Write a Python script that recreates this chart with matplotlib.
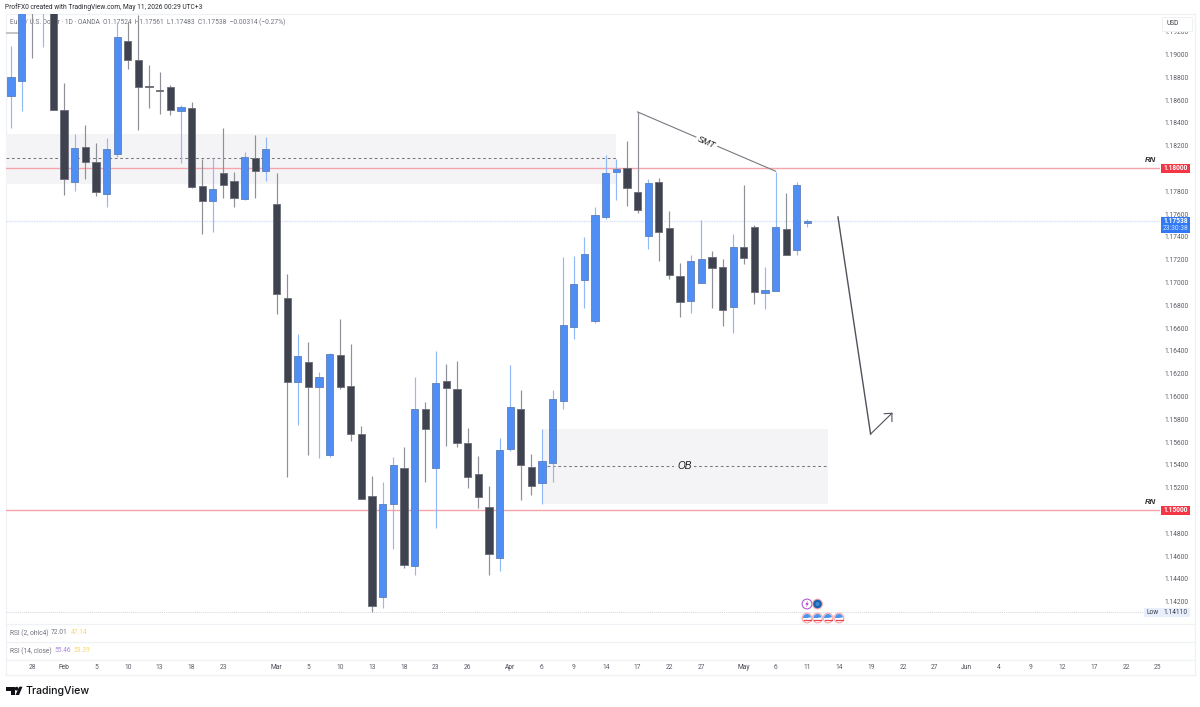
import matplotlib
matplotlib.use('Agg')
import numpy as np
import matplotlib.pyplot as plt
from matplotlib.lines import Line2D
from matplotlib.patches import Circle, Polygon, Rectangle, Wedge
from matplotlib.transforms import Affine2D

plt.rcParams['font.family'] = ['Roboto', 'DejaVu Sans']

# EUR/USD daily candles
opens = [1.18639, 1.18770, 1.20050, 1.19520, 1.20000, 1.18513, 1.17884, 1.18186, 1.18060, 1.17779,
         1.18130, 1.19121, 1.18952, 1.18726, 1.18689, 1.18712, 1.18507, 1.18531, 1.17844, 1.17718,
         1.17963, 1.17890, 1.17735, 1.18089, 1.17975, 1.17689, 1.16867, 1.16127, 1.16303, 1.16086,
         1.15487, 1.16364, 1.16092, 1.15671, 1.15127, 1.14239, 1.15060, 1.15375, 1.14516, 1.15888,
         1.15375, 1.16139, 1.16063, 1.15589, 1.15320, 1.15031, 1.14586, 1.15539, 1.15888, 1.15384,
         1.15239, 1.15414, 1.15960, 1.16612, 1.17022, 1.16665, 1.17577, 1.17967, 1.18004, 1.17796,
         1.17410, 1.17879, 1.17475, 1.17060, 1.16838, 1.16998, 1.17221, 1.17133, 1.16788, 1.17311,
         1.17484, 1.16910, 1.16925, 1.17467, 1.17282, 1.17524]
highs = [1.19075, 1.19980, 1.20150, 1.20100, 1.20100, 1.18753, 1.18303, 1.18384, 1.18224, 1.18268,
         1.19288, 1.19285, 1.19346, 1.18905, 1.18847, 1.18732, 1.18557, 1.18581, 1.18083, 1.18092,
         1.18355, 1.17969, 1.18147, 1.18291, 1.18276, 1.17958, 1.17075, 1.16548, 1.16475, 1.16215,
         1.16382, 1.16677, 1.16460, 1.15744, 1.15303, 1.15250, 1.15472, 1.15557, 1.16168, 1.15952,
         1.16402, 1.16285, 1.16309, 1.15726, 1.15481, 1.15212, 1.15633, 1.16274, 1.16060, 1.15493,
         1.15715, 1.16057, 1.17221, 1.17235, 1.17396, 1.17662, 1.18116, 1.18083, 1.18241, 1.18496,
         1.17905, 1.17914, 1.17630, 1.17168, 1.17239, 1.17548, 1.17276, 1.17209, 1.17423, 1.17858,
         1.17502, 1.17139, 1.17972, 1.17788, 1.17884, 1.17561]
lows = [1.18355, 1.18507, 1.18969, 1.19068, 1.18513, 1.17768, 1.17803, 1.17911, 1.17759, 1.17662,
        1.18104, 1.18873, 1.18338, 1.18531, 1.18475, 1.18469, 1.18051, 1.17829, 1.17425, 1.17443,
        1.17744, 1.17665, 1.17724, 1.17744, 1.17893, 1.16724, 1.15294, 1.15750, 1.15487, 1.15460,
        1.15469, 1.16066, 1.15612, 1.15100, 1.14110, 1.14147, 1.14665, 1.14498, 1.14432, 1.15247,
        1.14849, 1.15568, 1.15560, 1.15200, 1.15019, 1.14437, 1.14469, 1.15525, 1.15095, 1.15136,
        1.15060, 1.15247, 1.15890, 1.16507, 1.16779, 1.16645, 1.17560, 1.17726, 1.17674, 1.17612,
        1.17291, 1.17191, 1.17033, 1.16697, 1.16735, 1.16998, 1.16779, 1.16618, 1.16554, 1.17160,
        1.16814, 1.16770, 1.16925, 1.17239, 1.17239, 1.17483]
closes = [1.18800, 1.19900, 1.19560, 1.20000, 1.18513, 1.17908, 1.18180, 1.18057, 1.17794, 1.18171,
          1.19154, 1.18949, 1.18718, 1.18712, 1.18682, 1.18513, 1.18537, 1.17838, 1.17715, 1.17818,
          1.17855, 1.17739, 1.18101, 1.17978, 1.18174, 1.16902, 1.16125, 1.16355, 1.16086, 1.16168,
          1.16370, 1.16086, 1.15671, 1.15105, 1.14165, 1.15054, 1.15399, 1.14519, 1.15890, 1.15712,
          1.16116, 1.16077, 1.15589, 1.15294, 1.15116, 1.14618, 1.15531, 1.15910, 1.15399, 1.15218,
          1.15434, 1.15975, 1.16625, 1.16989, 1.17253, 1.17592, 1.17963, 1.17996, 1.17829, 1.17636,
          1.17875, 1.17440, 1.17068, 1.16826, 1.17189, 1.17206, 1.17127, 1.16759, 1.17311, 1.17212,
          1.16919, 1.16932, 1.17487, 1.17239, 1.17852, 1.17538]

price_ticks = [1.142, 1.144, 1.146, 1.148, 1.152, 1.154, 1.156, 1.158, 1.160, 1.162, 1.164, 1.166,
               1.168, 1.170, 1.172, 1.174, 1.176, 1.178, 1.182, 1.184, 1.186, 1.188, 1.190, 1.192]
time_ticks = [2, 5, 8, 11, 14, 17, 20, 25, 28, 31, 34, 37, 40, 43, 47, 50, 53, 56, 59, 62, 65, 69,
              72, 75, 78, 81, 84, 87, 90, 93, 96, 99, 102, 105, 108]
time_labels = ['28', 'Feb', '5', '10', '13', '18', '23', 'Mar', '5', '10', '13', '18', '23', '26', 'Apr',
               '6', '9', '14', '17', '22', '27', 'May', '6', '11', '14', '19', '22', '27', 'Jun',
               '4', '9', '12', '17', '22', '25']

last_price = 1.17538
round_levels = [1.18, 1.15]
low_price = 1.14110

# drawn zones and lines, index / price
supply_zone = (1.17864, 1.18307, 1.18088, 56.97)
ob_zone = (50, 76.93, 1.15057, 1.15715, 1.15386)
smt_x = [59, 72]
smt_y = [1.18496, 1.17976]
arrow_x = [77.87, 80.94, 82.95]
arrow_y = [1.17575, 1.15671, 1.15853]
barb_x = [82.23, 82.95, 82.95]
barb_y = [1.15849, 1.15853, 1.15781]

W, H = 1200, 707
GREY = '#6f727d'
BLUE = '#4f8ff5'
DARK = '#3f424f'
FRAME = '#eff1f6'
FS = 4.75

fig = plt.figure(figsize=(12, 7.07), dpi=100, facecolor='white')
px = Affine2D().scale(1 / W, -1 / H).translate(0, 1) + fig.transFigure

left, right, top, bottom = 5.5, 1160, 14, 624
ax = fig.add_axes([left / W, 1 - bottom / H, (right - left) / W, (bottom - top) / H])
ax.set_xlim((left - 11) / 10.62, (right - 11) / 10.62)
ax.set_ylim(1.18 - (bottom - 168.5) / 11400, 1.18 + (168.5 - top) / 11400)
for s in ax.spines.values():
    s.set_visible(False)
ax.patch.set_alpha(0)

ax.yaxis.tick_right()
ax.set_yticks(price_ticks)
ax.set_yticklabels([f'{p:.5f}' for p in price_ticks])
ax.tick_params(axis='y', length=0, pad=3.4, labelsize=FS, labelcolor='#5a5d68')
ax.set_xticks([])

# header and pane legends
fig.text(5 / W, 1 - 7.5 / H, 'ProfFX0 created with TradingView.com, May 11, 2026 00:29 UTC+3',
         fontsize=FS, color='#26282f', va='center')
ax.text(9.5, 22, 'Euro / U.S. Dollar · 1D · OANDA', transform=px, fontsize=FS, color=GREY, va='center', zorder=1)
ax.text(103, 22, 'O1.17524  H1.17561  L1.17483  C1.17538  −0.00314 (−0.27%)', transform=px,
        fontsize=FS, color=GREY, va='center', zorder=1)

# zones
ax.add_patch(Rectangle((ax.get_xlim()[0], supply_zone[0]), supply_zone[3] - ax.get_xlim()[0],
                       supply_zone[1] - supply_zone[0], color='#f4f4f6', lw=0, zorder=0.5))
ax.plot([ax.get_xlim()[0], supply_zone[3]], [supply_zone[2]] * 2, color='#77777e', lw=0.75,
        dashes=(2.6, 2.6), zorder=1.5)
ax.add_patch(Rectangle((ob_zone[0], ob_zone[2]), ob_zone[1] - ob_zone[0], ob_zone[3] - ob_zone[2],
                       color='#f4f4f6', lw=0, zorder=0.5))
ax.plot([50.5, ob_zone[1]], [ob_zone[4]] * 2, color='#77777e', lw=0.75, dashes=(2.6, 2.6), zorder=1.5)
ax.text(63.4, ob_zone[4], 'OB', fontsize=7.2, style='italic', family='Liberation Sans', color='#17171a',
        ha='center', va='center', zorder=2,
        bbox=dict(facecolor='#f4f4f6', edgecolor='none', pad=2))

# horizontal levels
for lvl in round_levels:
    ax.axhline(lvl, color='#f6a3aa', lw=1.0, zorder=2)
ax.axhline(last_price, color='#d8e5fb', lw=1, ls=(0, (1.2, 0.6)), zorder=1.5)
ax.axhline(low_price, color='#d6d6da', lw=0.7, ls=(0, (1, 1)), zorder=1.5)
ax.plot([-0.5, 1], [1.19189, 1.19189], color='#b4b4b8', lw=1.1, zorder=1.5)

# candles
x = np.arange(len(opens))
o, h, l, c = map(np.array, (opens, highs, lows, closes))
up = c >= o
ax.vlines(x[up], l[up], h[up], color='#91b9f8', lw=0.85, zorder=3)
ax.vlines(x[~up], l[~up], h[~up], color='#8e8f97', lw=0.85, zorder=3)
ax.bar(x[up], (c - o)[up], bottom=o[up], width=0.68, color=BLUE, edgecolor='#5f7fb5', lw=0.6, zorder=4)
ax.bar(x[~up], (o - c)[~up], bottom=c[~up], width=0.68, color=DARK, edgecolor='#6a6c77', lw=0.6, zorder=4)

# SMT line
ax.plot(smt_x, smt_y, color='#777980', lw=0.8, zorder=5)
ax.text(65.5, 1.18232, 'SMT', rotation=-23.4, rotation_mode='anchor', fontsize=6.4, style='italic',
        family='Liberation Sans', color='#17171a', ha='center', va='center', zorder=6,
        bbox=dict(facecolor='white', edgecolor='none', pad=1.5))

# projected move
ax.plot(arrow_x[:2], arrow_y[:2], color='#50525c', lw=1.0, zorder=5)
ax.plot(arrow_x[1:], arrow_y[1:], color='#50525c', lw=0.8, zorder=5)
ax.plot(barb_x, barb_y, color='#50525c', lw=0.8, solid_joinstyle='miter', zorder=5)

# RN labels
for lvl in round_levels:
    ax.text(107.3, lvl + 0.00066, 'RN', fontsize=5.6, style='italic', family='Liberation Sans',
            fontweight='bold', color='#2b2b30', ha='center', va='center', zorder=6)


def price_tag(price, label, color, txt='white', height=0.00075):
    ax.add_patch(Rectangle((1.0006, price - height / 2), 29.5 / (right - left), height,
                           transform=ax.get_yaxis_transform(), color=color, lw=0, clip_on=False, zorder=10))
    ax.text(1.0006 + 15 / (right - left), price, label, transform=ax.get_yaxis_transform(), color=txt,
            fontsize=FS, fontweight='bold', ha='center', va='center', zorder=11)


for lvl in round_levels:
    price_tag(lvl, f'{lvl:.5f}', '#f23645')

# last price tag with countdown
ax.add_patch(Rectangle((1.0006, last_price - 0.00101), 29.5 / (right - left), 0.0014,
                       transform=ax.get_yaxis_transform(), color='#3179f5', lw=0, clip_on=False, zorder=10))
ax.text(1.0006 + 15 / (right - left), last_price, f'{last_price:.5f}', transform=ax.get_yaxis_transform(),
        color='white', fontsize=FS, fontweight='bold', ha='center', va='center', zorder=11)
ax.text(1.0006 + 15 / (right - left), last_price - 0.00064, '23:30:38', transform=ax.get_yaxis_transform(),
        color='#dbe7fd', fontsize=FS, ha='center', va='center', zorder=11)

# lowest-price tag
ax.add_patch(Rectangle((1144, 608.3), 46, 8.4, transform=px, color='#e6effb', lw=0, clip_on=False, zorder=10))
ax.text(1146.7, 612.3, 'Low', transform=px, color='#3a3d47', fontsize=FS, va='center', zorder=11, clip_on=False)
ax.text(1175.9, 612.3, f'{low_price:.5f}', transform=px, color='#3a3d47', fontsize=FS,
        ha='center', va='center', zorder=11, clip_on=False)

# USD button
fig.add_artist(Rectangle((1162, 17), 30, 13.5, transform=px, facecolor='white', edgecolor='#eef0f4',
                         lw=0.7, zorder=20))
fig.text(1172.2 / W, 1 - 23.5 / H, 'USD', fontsize=FS, color='#3a3d47', ha='center', va='center', zorder=21)

# event icons
ev_y = 618
for ex in [807, 817.5, 828, 839]:
    fig.add_artist(Circle((ex, ev_y), 5.4, transform=px, facecolor='#f9a9ae', edgecolor='none', zorder=20))
    fig.add_artist(Circle((ex, ev_y), 4.2, transform=px, facecolor='white', edgecolor='none', zorder=21))
    fig.add_artist(Wedge((ex, ev_y), 4, 180, 350, transform=px, facecolor='#4a95ec', edgecolor='none', zorder=22))
    fig.add_artist(Line2D([ex - 3.5, ex + 3.5], [ev_y + 2, ev_y + 2], transform=px, color='#e9434f', lw=0.9, zorder=23))
fig.add_artist(Circle((807, 604), 4.9, transform=px, facecolor='white', edgecolor='#b25ad0', lw=0.8, zorder=20))
fig.add_artist(Polygon([(808, 600.5), (805.3, 604.6), (807, 604.6), (806, 607.5), (808.8, 603.3), (807.1, 603.3)],
                       transform=px, facecolor='#a838c8', edgecolor='none', zorder=21))
fig.add_artist(Circle((817.5, 604), 5.4, transform=px, facecolor='#f9a9ae', edgecolor='none', zorder=20))
fig.add_artist(Circle((817.5, 604), 4.3, transform=px, facecolor='#1b62ad', edgecolor='none', zorder=21))
fig.add_artist(Circle((817.5, 604), 2, transform=px, facecolor='#3d8bd8', edgecolor='none', zorder=22))

# frame and pane separators
for y in [14, 624, 642, 660, 675]:
    fig.add_artist(Line2D([5.5, 1194.5], [y, y], transform=px, color=FRAME, lw=0.9, zorder=-1))
for xx in [5.5, 1194.5]:
    fig.add_artist(Line2D([xx, xx], [14, 675], transform=px, color=FRAME, lw=0.9, zorder=-1))

# RSI legends
fig.text(9.5 / W, 1 - 633 / H, 'RSI (2, ohlc4)', fontsize=FS, color=GREY, va='center')
fig.text(51 / W, 1 - 633 / H, '72.01', fontsize=FS, color=GREY, va='center')
fig.text(70.7 / W, 1 - 633 / H, '47.14', fontsize=FS, color='#fdd663', va='center')
fig.text(9.5 / W, 1 - 651 / H, 'RSI (14, close)', fontsize=FS, color=GREY, va='center')
fig.text(54 / W, 1 - 651 / H, '55.46', fontsize=FS, color='#a98be2', va='center')
fig.text(73 / W, 1 - 651 / H, '53.39', fontsize=FS, color='#fdd663', va='center')

# time axis strip
tax = fig.add_axes([left / W, 1 - 675 / H, (right - left) / W, 15 / H])
tax.set_xlim(ax.get_xlim())
tax.set_ylim(0, 1)
tax.patch.set_alpha(0)
for s in tax.spines.values():
    s.set_visible(False)
tax.set_yticks([])
tax.set_xticks(time_ticks)
tax.set_xticklabels(time_labels)
tax.tick_params(axis='x', length=0, direction='in', pad=-5.4, labelsize=FS, labelcolor='#5a5d68')
for t, lab in zip(tax.get_xticklabels(), time_labels):
    t.set_verticalalignment('center')
    if lab.isalpha():
        t.set_color('#44464f')

# logo
logo = '#101114'
fig.add_artist(Polygon([(6, 686.7), (14.5, 686.7), (14.5, 695), (10.5, 695), (10.5, 690.5), (6, 690.5)],
                       transform=px, facecolor=logo, edgecolor='none'))
fig.add_artist(Circle((16.6, 688.7), 1.9, transform=px, facecolor=logo, edgecolor='none'))
fig.add_artist(Polygon([(15.5, 695), (19.3, 686.7), (22.5, 686.7), (19, 695)],
                       transform=px, facecolor=logo, edgecolor='none'))
fig.text(25.8 / W, 1 - 691 / H, 'TradingView', fontsize=7.6, fontweight='medium', family='Inter',
         color=logo, va='center')

fig.savefig('out.png', dpi=100)
